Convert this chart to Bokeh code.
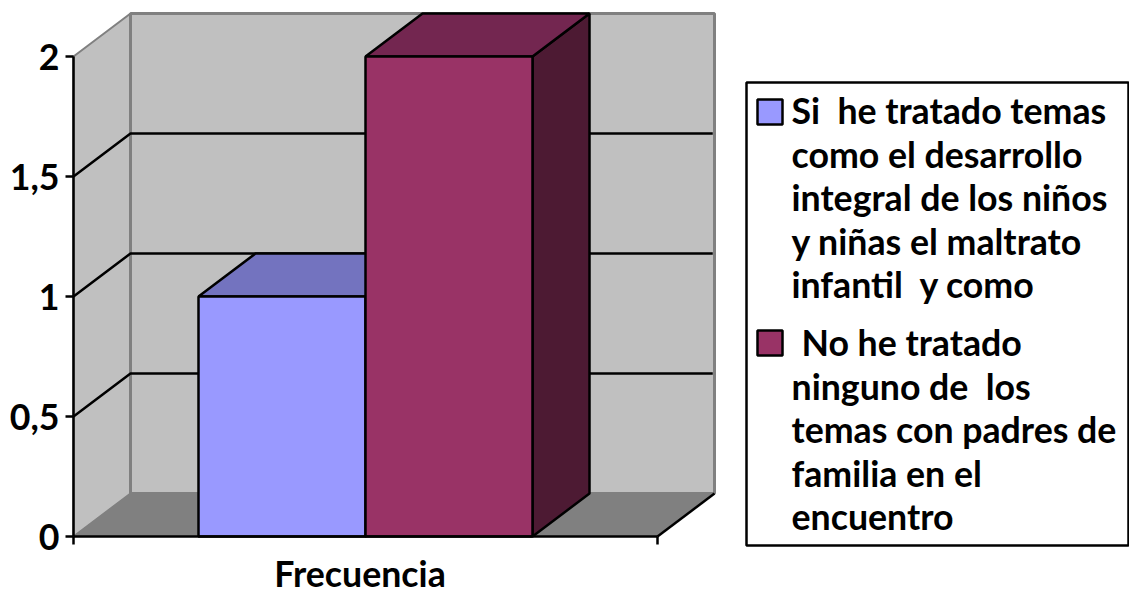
from bokeh.core.properties import value
from bokeh.embed import file_html
from bokeh.models import FixedTicker, LinearAxis, Range1d
from bokeh.plotting import figure
from bokeh.resources import INLINE

# ---- data
category = ["Frecuencia"]
series_names = ["Si", "No"]
series_values = [1, 2]
y_ticks = [0, 0.5, 1, 1.5, 2]
y_tick_labels = ["0", "0,5", "1", "1,5", "2"]
legend_lines_a = ["Si \u00a0he tratado temas", "como el desarrollo", "integral de los niños",
                  "y niñas el maltrato", "infantil \u00a0y como"]
legend_lines_b = ["No he tratado", "ninguno de \u00a0los", "temas con padres de",
                  "familia en el", "encuentro"]

# ---- style
W, H = 1129, 594
FONT = "Lato"
FS = "35.7px"
FRONT = ["#9999FF", "#993366"]
TOP = ["#7373BF", "#732650"]
SIDE = ["#4D4D80", "#4D1A33"]
WALL, FLOOR, EDGE = "#C0C0C0", "#808080", "#808080"
LW = 2.5

# ---- plot geometry: one pixel mapping covering the whole canvas
LEFT, BASE, PX_PER_X, PX_PER_Y = 73, 536, 584, 240
DX = 57 / PX_PER_X
DY = 43 / PX_PER_Y
BAR_W = 167 / PX_PER_X
BAR_START = 125 / PX_PER_X


def px(x):
    return (x - LEFT) / PX_PER_X


def py(y):
    return (BASE - y) / PX_PER_Y


p = figure(width=W, height=H, output_backend="svg", toolbar_location=None,
           x_range=Range1d(px(0), px(W)), y_range=Range1d(py(H), py(0)),
           x_axis_type=None, y_axis_type=None,
           min_border=0, outline_line_color=None, margin=0)
p.grid.visible = False

ymax = max(y_ticks)

# walls and floor
p.patch([0, DX, DX, 0], [0, DY, ymax + DY, ymax], fill_color=WALL, line_color=EDGE, line_width=2)
p.patch([DX, 1 + DX, 1 + DX, DX], [DY, DY, ymax + DY, ymax + DY], fill_color=WALL, line_color=EDGE, line_width=3)
p.patch([0, 1, 1 + DX, DX], [0, 0, DY, DY], fill_color=FLOOR, line_color=EDGE, line_width=1)
p.line([1, 1 + DX], [0, DY], line_color="black", line_width=LW)

# grid lines
for t in y_ticks[1:-1]:
    p.line([0, DX, 1 + DX - 0.003], [t, t + DY, t + DY], line_color="black", line_width=LW)

# bars
for i, v in enumerate(series_values):
    x0 = BAR_START + i * BAR_W
    x1 = x0 + BAR_W
    p.patch([x1, x1 + DX, x1 + DX, x1], [0, DY, v + DY, v], fill_color=SIDE[i], line_color="black", line_width=LW)
    p.patch([x0, x1, x1 + DX, x0 + DX], [v, v, v + DY, v + DY], fill_color=TOP[i], line_color="black", line_width=LW)
    p.patch([x0, x1, x1, x0], [0, 0, v, v], fill_color=FRONT[i], line_color="black", line_width=LW)

# axes sit at data position 0 and take no panel space
yaxis = LinearAxis(fixed_location=0, ticker=FixedTicker(ticks=y_ticks), bounds=(0, ymax),
                   major_label_overrides={t: s for t, s in zip(y_ticks, y_tick_labels)},
                   major_tick_in=0, major_tick_out=8, major_tick_line_width=LW, major_tick_line_color="black",
                   minor_tick_line_color=None, axis_line_width=LW, axis_line_color="black",
                   major_label_text_font=FONT, major_label_text_font_style="bold",
                   major_label_text_font_size=FS, major_label_text_color="black", major_label_standoff=6)
p.add_layout(yaxis, "left")

CENTER = px(359.5)
xaxis = LinearAxis(fixed_location=0, ticker=FixedTicker(ticks=[CENTER], minor_ticks=[0, 1]), bounds=(0, 1),
                   major_label_overrides={CENTER: category[0]},
                   major_tick_in=0, major_tick_out=0, minor_tick_in=0, minor_tick_out=8,
                   minor_tick_line_width=LW, minor_tick_line_color="black",
                   axis_line_width=LW, axis_line_color="black",
                   major_label_text_font=FONT, major_label_text_font_style="bold",
                   major_label_text_font_size=FS, major_label_text_color="black", major_label_standoff=7)
p.add_layout(xaxis, "below")

# legend
p.quad(left=px(746), right=px(1128), top=py(82), bottom=py(545), fill_color="white",
       line_color="black", line_width=LW)
for i, (top, bottom) in enumerate([(99, 124), (330, 355)]):
    p.quad(left=px(757), right=px(782), top=py(top), bottom=py(bottom), fill_color=FRONT[i],
           line_color="black", line_width=LW)

baselines = [110, 153.5, 197, 240.5, 284, 342, 385.5, 429, 472.5, 516]
lines = legend_lines_a + legend_lines_b
xs = [px(791)] * len(lines)
xs[5] = px(801)
p.text(x=xs, y=[py(b) for b in baselines], text=lines,
       text_font=value(FONT), text_font_style="bold", text_font_size=FS, text_color="black",
       text_baseline="alphabetic", text_align="left")

open("out.html", "w").write(file_html(p, INLINE))
